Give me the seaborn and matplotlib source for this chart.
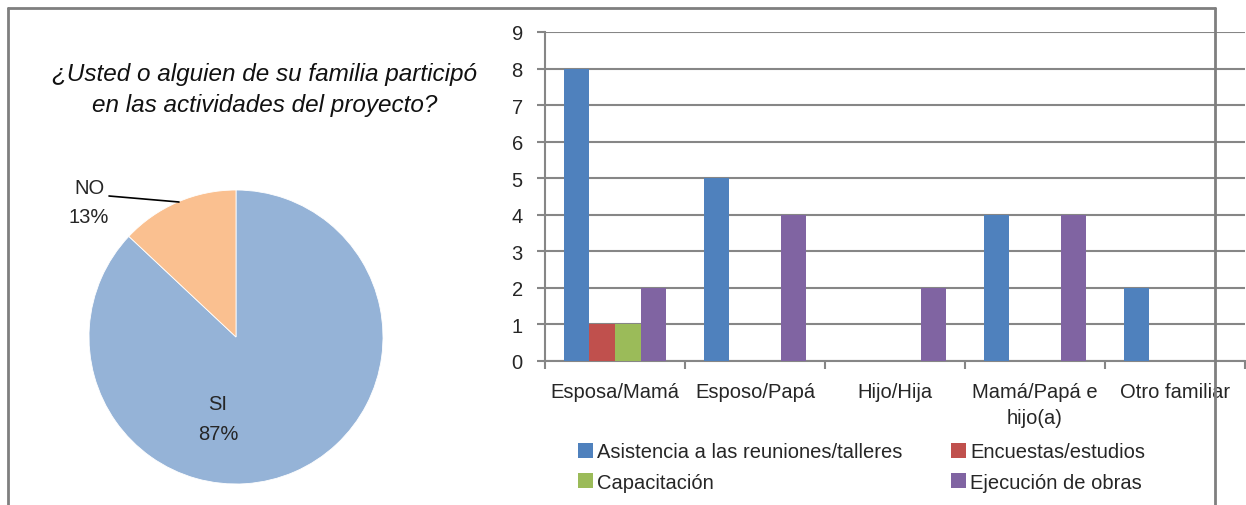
import matplotlib
matplotlib.use("Agg")
import matplotlib.pyplot as plt
import seaborn as sns
import pandas as pd
from matplotlib.lines import Line2D
from matplotlib.patches import Patch

# ---- data ----
pie_labels = ["SI", "NO"]
pie_values = [87, 13]
pie_title = "¿Usted o alguien de su familia participó\nen las actividades del proyecto?"

categories = ["Esposa/Mamá", "Esposo/Papá", "Hijo/Hija", "Mamá/Papá e\nhijo(a)", "Otro familiar"]
series_names = ["Asistencia a las reuniones/talleres", "Encuestas/estudios",
                "Capacitación", "Ejecución de obras"]
asistencia = [8, 5, 0, 4, 2]
encuestas = [1, 0, 0, 0, 0]
capacitacion = [1, 0, 0, 0, 0]
ejecucion = [2, 4, 2, 4, 0]
y_ticks = list(range(0, 10))

pie_colors = ["#95B3D7", "#FAC090"]
bar_colors = ["#4F81BD", "#C0504D", "#9BBB59", "#8064A2"]

sns.set_theme(style="white")
plt.rcParams["font.family"] = ["Liberation Sans", "DejaVu Sans"]

W, H = 1246, 506
fig = plt.figure(figsize=(W / 100, H / 100), dpi=100)

def fx(x):
    return x / W

def fy(y):
    return 1 - y / H

gray = "#868686"

# ---- pie ----
cx, cy, r = 236, 338, 147
axp = fig.add_axes([fx(cx - r), fy(cy + r), 2 * r / W, 2 * r / H])
axp.pie(pie_values, colors=pie_colors, startangle=90, counterclock=False,
        wedgeprops=dict(linewidth=0.6, edgecolor="white"))
axp.set_xlim(-1, 1)
axp.set_ylim(-1, 1)
axp.set_aspect("equal")
axp.axis("off")

fs = 14.5
fig.text(fx(265), fy(90), pie_title, ha="center", va="center", fontsize=17.5,
         style="italic", linespacing=1.45, color="#111111")
fig.text(fx(218), fy(404), f"{pie_labels[0]}", ha="center", va="center", fontsize=fs)
fig.text(fx(218), fy(435), f"{pie_values[0]}%", ha="center", va="center", fontsize=fs)
fig.text(fx(90), fy(188), f"{pie_labels[1]}", ha="center", va="center", fontsize=fs)
fig.text(fx(89), fy(218), f"{pie_values[1]}%", ha="center", va="center", fontsize=fs)
fig.add_artist(Line2D([fx(109), fx(179)], [fy(197), fy(203)], color="black", lw=1.2))

# ---- bars ----
rows = []
for name, vals in zip(series_names, [asistencia, encuestas, capacitacion, ejecucion]):
    for c, v in zip(categories, vals):
        rows.append({"cat": c, "serie": name, "val": v})
df = pd.DataFrame(rows)

axb = fig.add_axes([fx(545), fy(362), 700 / W, 329 / H])
sns.barplot(data=df, x="cat", y="val", hue="serie", order=categories,
            hue_order=series_names, palette=bar_colors, width=0.73,
            saturation=1, linewidth=0, edgecolor="none", ax=axb,
            legend=False, zorder=3)
axb.set_xlim(-0.5, len(categories) - 0.5)
axb.set_ylim(0, 9)
axb.set_yticks(y_ticks)
axb.set_xlabel("")
axb.set_ylabel("")
axb.yaxis.grid(True, color=gray, lw=1.5, zorder=0)
axb.set_axisbelow(True)
for s in ["top", "right"]:
    axb.spines[s].set_visible(False)
for s in ["left", "bottom"]:
    axb.spines[s].set_color(gray)
    axb.spines[s].set_linewidth(1.5)
axb.tick_params(axis="y", length=6, width=1.5, color=gray, direction="out",
                pad=10, labelsize=fs, left=True)
axb.set_xticks([i - 0.5 for i in range(len(categories) + 1)], minor=True)
axb.tick_params(axis="x", which="minor", length=6, width=1.5, color=gray,
                direction="out", bottom=True)
axb.tick_params(axis="x", which="major", length=0, pad=15, labelsize=fs)
axb.set_xticklabels(categories, linespacing=1.5, va="top")

# legend: row-wise order in 2 columns
handles = [Patch(facecolor=c, edgecolor="none") for c in bar_colors]
order = [0, 2, 1, 3]
fig.legend([handles[i] for i in order], [series_names[i] for i in order],
           ncol=2, loc="center left", bbox_to_anchor=(fx(578), fy(468)),
           frameon=False, fontsize=fs, handlelength=0.75, handleheight=0.75,
           handletextpad=0.2, columnspacing=2.4, labelspacing=0.55,
           borderpad=0, borderaxespad=0)

# ---- outer border lines ----
bc = "#7F7F7F"
fig.add_artist(Line2D([fx(8), fx(1215)], [fy(9), fy(9)], color=bc, lw=2))
fig.add_artist(Line2D([fx(8), fx(8)], [fy(9), 0], color=bc, lw=2))
fig.add_artist(Line2D([fx(1215), fx(1215)], [fy(9), 0], color=bc, lw=2))

fig.savefig("out.png", dpi=100, facecolor="white")
